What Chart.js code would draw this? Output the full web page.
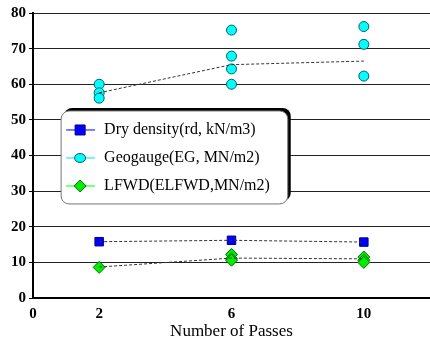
<!DOCTYPE html>
<html>
<head>
<meta charset="utf-8">
<script src="https://cdn.jsdelivr.net/npm/chart.js@4.4.0/dist/chart.umd.min.js"></script>
<style>
  html, body { margin: 0; padding: 0; background: #fff; }
  #wrap { width: 430px; height: 346px; position: relative; }
</style>
</head>
<body>
<div id="wrap"><canvas id="passChart"></canvas></div>
<script>
    const xTicks = [0, 2, 6, 10];
    const seriesNames = ['Dry density(rd, kN/m3)', 'Geogauge(EG, MN/m2)', 'LFWD(ELFWD,MN/m2)'];

    const dryX = [2, 6, 10];
    const dryY = [15.8, 16.2, 15.7];

    const geoX = [2, 2, 2, 6, 6, 6, 6, 10, 10, 10];
    const geoY = [60.0, 57.6, 56.1, 75.2, 67.9, 64.3, 60.0, 76.2, 71.2, 62.3];

    const lfwdX = [2, 6, 6, 6, 10, 10, 10];
    const lfwdY = [8.6, 12.2, 11.0, 10.6, 11.5, 10.6, 10.0];

    // dotted trend lines (averages)
    const trendX = [2, 6, 10];
    const dryTrend = [15.8, 16.2, 15.7];
    const geoTrend = [57.6, 65.5, 66.5];
    const lfwdTrend = [8.7, 11.2, 11.0];

    const pts = (xs, ys) => xs.map((x, i) => ({ x: x, y: ys[i] }));
    const serif = '"Liberation Serif", "Times New Roman", serif';

    const trendStyle = {
        type: 'line',
        borderColor: '#333',
        borderWidth: 1,
        borderDash: [3, 2],
        pointRadius: 0,
        fill: false,
        tension: 0
    };

    const legendItems = [
        { name: seriesNames[0], line: '#0000ff', fill: '#0000ff', border: '#000080', shape: 'rect' },
        { name: seriesNames[1], line: '#00e5e5', fill: '#00ffff', border: '#006060', shape: 'circle' },
        { name: seriesNames[2], line: '#00ff00', fill: '#00ee00', border: '#007000', shape: 'rectRot' }
    ];

    function drawMarker(ctx, shape, x, y, fill, border) {
        ctx.save();
        ctx.fillStyle = fill;
        ctx.strokeStyle = border;
        ctx.lineWidth = 1;
        ctx.beginPath();
        if (shape === 'rect') {
            ctx.rect(x - 5, y - 5, 10, 10);
        } else if (shape === 'circle') {
            ctx.ellipse(x, y, 5.5, 4.5, 0, 0, Math.PI * 2);
        } else {
            ctx.moveTo(x, y - 6); ctx.lineTo(x + 6, y); ctx.lineTo(x, y + 6); ctx.lineTo(x - 6, y); ctx.closePath();
        }
        ctx.fill();
        ctx.stroke();
        ctx.restore();
    }

    // Rounded legend box drawn inside the plot area
    const boxLegend = {
        id: 'boxLegend',
        afterDatasetsDraw(chart) {
            const ctx = chart.ctx;
            const xs = chart.scales.x, ys = chart.scales.y;
            const left = xs.getPixelForValue(0.85), top = ys.getPixelForValue(52.5);
            const right = xs.getPixelForValue(7.7), bottom = ys.getPixelForValue(26.4);
            const r = 8;
            ctx.save();
            // thick dark shadow on top and right
            ctx.beginPath();
            ctx.roundRect(left + 3, top - 3, right - left, bottom - top, r);
            ctx.fillStyle = '#000';
            ctx.fill();
            ctx.beginPath();
            ctx.roundRect(left, top, right - left, bottom - top, r);
            ctx.fillStyle = '#fff';
            ctx.fill();
            ctx.strokeStyle = '#777';
            ctx.lineWidth = 1;
            ctx.stroke();

            ctx.font = '16px ' + serif;
            ctx.textBaseline = 'middle';
            ctx.textAlign = 'left';
            legendItems.forEach((it, i) => {
                const y = top + 19 + i * 28;
                ctx.strokeStyle = it.line;
                ctx.lineWidth = 1;
                ctx.beginPath();
                ctx.moveTo(left + 5, y);
                ctx.lineTo(left + 34, y);
                ctx.stroke();
                drawMarker(ctx, it.shape, left + 19, y, it.fill, it.border);
                ctx.fillStyle = '#000';
                ctx.fillText(it.name, left + 43, y);
            });
            ctx.restore();
        }
    };

    const ctx = document.getElementById('passChart').getContext('2d');
    new Chart(ctx, {
        type: 'scatter',
        data: {
            datasets: [
                Object.assign({ label: 'dry trend', data: pts(trendX, dryTrend) }, trendStyle),
                Object.assign({ label: 'geo trend', data: pts(trendX, geoTrend) }, trendStyle),
                Object.assign({ label: 'lfwd trend', data: pts(trendX, lfwdTrend) }, trendStyle),
                {
                    label: seriesNames[0],
                    data: pts(dryX, dryY),
                    pointStyle: 'rect',
                    pointRadius: 6,
                    backgroundColor: '#0000ff',
                    borderColor: '#000080',
                    borderWidth: 1
                },
                {
                    label: seriesNames[1],
                    data: pts(geoX, geoY),
                    pointStyle: 'circle',
                    pointRadius: 5,
                    backgroundColor: '#00ffff',
                    borderColor: '#006060',
                    borderWidth: 1
                },
                {
                    label: seriesNames[2],
                    data: pts(lfwdX, lfwdY),
                    pointStyle: 'rectRot',
                    pointRadius: 6,
                    backgroundColor: '#00ee00',
                    borderColor: '#007000',
                    borderWidth: 1
                }
            ]
        },
        options: {
            responsive: true,
            maintainAspectRatio: false,
            animation: false,
            layout: { autoPadding: false, padding: { top: 13, right: 0, left: 0, bottom: 0 } },
            plugins: {
                legend: { display: false },
                tooltip: { enabled: false }
            },
            scales: {
                x: {
                    type: 'linear',
                    min: 0,
                    max: 12,
                    afterBuildTicks: (axis) => { axis.ticks = xTicks.map(v => ({ value: v })); },
                    afterFit: (axis) => { axis.height = 48; },
                    grid: { display: false, drawTicks: true, tickLength: 4, tickColor: '#000' },
                    border: { color: '#000', width: 2 },
                    ticks: {
                        color: '#000',
                        padding: 3,
                        font: { family: serif, size: 15, weight: 'bold' }
                    },
                    title: {
                        display: true,
                        text: 'Number of Passes',
                        color: '#000',
                        padding: { top: 0, bottom: 4 },
                        font: { family: serif, size: 17 }
                    }
                },
                y: {
                    min: 0,
                    max: 80,
                    afterFit: (axis) => { axis.width = 33; },
                    ticks: {
                        stepSize: 10,
                        color: '#000',
                        padding: 3,
                        font: { family: serif, size: 15, weight: 'bold' }
                    },
                    grid: { color: '#222', lineWidth: 1, tickLength: 4, tickColor: '#000' },
                    border: { color: '#000', width: 2 }
                }
            }
        },
        plugins: [boxLegend]
    });
</script>
</body>
</html>
